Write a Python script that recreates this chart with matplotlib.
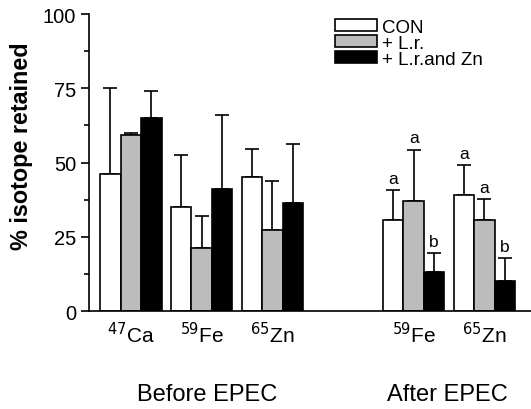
import matplotlib.pyplot as plt
import numpy as np

plt.rcParams['font.family'] = ['Liberation Sans', 'DejaVu Sans']

# group positions: 3 before EPEC, gap, 2 after EPEC
positions = [0, 1, 2, 4, 5]
isotopes = ['$^{47}$Ca', '$^{59}$Fe', '$^{65}$Zn', '$^{59}$Fe', '$^{65}$Zn']
series = ['CON', '+ L.r.', '+ L.r.and Zn']
colors = ['white', '#bcbcbc', 'black']

con_mean = [46, 35, 45, 30.7, 39]
con_sd = [29, 17.5, 9.5, 10, 10.3]
lr_mean = [59.3, 21.2, 27.4, 37, 30.7]
lr_sd = [0.6, 10.7, 16.5, 17.4, 7]
zn_mean = [65, 41, 36.3, 13.2, 10.1]
zn_sd = [9, 25.2, 20, 6.2, 7.7]

letters_con = ['', '', '', 'a', 'a']
letters_lr = ['', '', '', 'a', 'a']
letters_zn = ['', '', '', 'b', 'b']

means = [con_mean, lr_mean, zn_mean]
sds = [con_sd, lr_sd, zn_sd]
letters = [letters_con, letters_lr, letters_zn]

fig = plt.figure(figsize=(5.31, 4.10), dpi=100)
ax = fig.add_axes([0.168, 0.239, 0.832, 0.724])

w = 0.289
x = np.array(positions, dtype=float)
for i in range(3):
    xi = x + (i - 1) * w
    ax.bar(xi, means[i], w, color=colors[i], edgecolor='black', linewidth=1.2,
           label=series[i], zorder=2)
    ax.errorbar(xi, means[i], yerr=[np.zeros(len(xi)), sds[i]], fmt='none',
                ecolor='black', elinewidth=1.2, capsize=5, capthick=1.2, zorder=1)
    for xx, m, s, t in zip(xi, means[i], sds[i], letters[i]):
        if t:
            ax.annotate(t, (xx, m + s), xytext=(0, 3), textcoords='offset points',
                        ha='center', va='bottom', fontsize=12.5)

ax.set_xlim(-0.59, 5.66)
ax.set_ylim(0, 100)
ax.set_yticks([0, 25, 50, 75, 100])
ax.set_yticks([12.5, 37.5, 62.5, 87.5], minor=True)
ax.tick_params(axis='y', which='major', length=6, width=1.2, labelsize=14.5, direction='out')
ax.tick_params(axis='y', which='minor', length=3.5, width=1.2)
ax.set_xticks(x)
ax.set_xticklabels(isotopes, fontsize=15)
ax.tick_params(axis='x', length=0, pad=7)
for s in ['top', 'right']:
    ax.spines[s].set_visible(False)
for s in ['left', 'bottom']:
    ax.spines[s].set_linewidth(1.2)

ax.set_ylabel('% isotope retained', fontsize=16.8, fontweight='bold')
ax.yaxis.set_label_coords(-0.127, 0.56)

ax.legend(loc='upper left', bbox_to_anchor=(0.557, 0.985), frameon=False,
          fontsize=13.5, handlelength=2.2, handleheight=0.62, handletextpad=0.3,
          labelspacing=-0.05, borderpad=0, borderaxespad=0)

fig.text(207 / 531, 1 - 395 / 410, 'Before EPEC', ha='center', va='center', fontsize=17)
fig.text(447 / 531, 1 - 395 / 410, 'After EPEC', ha='center', va='center', fontsize=17)

fig.savefig('out.png', dpi=100)
